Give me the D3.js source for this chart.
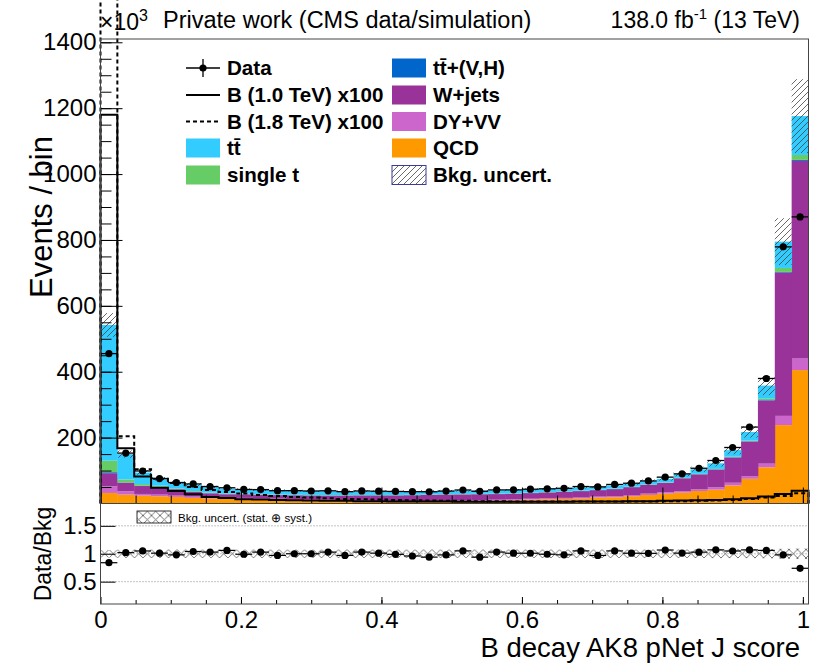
<!DOCTYPE html>
<html><head><meta charset="utf-8">
<script src="https://cdn.jsdelivr.net/npm/d3@7"></script>
<style>
body{margin:0;background:#fff}
svg{display:block;font-family:"Liberation Sans",Arial,Helvetica,sans-serif}
</style>
</head><body>
<svg id="c" width="826" height="665"></svg>
<script>
// ---------------- DATA (events / bin, in units of 10^3) ----------------
const nBins = 42;
const binWidth = 0.024;
const qcd     = [32,27,24,22,20,17,15,14,14,13,12,11,10,9,8,7,6,5,5,5,5,6,8,9,10,12,13,14,15,18,19,22,26,30,33,38,42,55,75,110,238,405];
const dyvv    = [20,10,5,5,4,4,3,3,3,2.5,2.5,2.5,2.5,2.5,2.5,2.5,2.5,2.5,2.5,2.5,2.5,2.5,2.5,2.5,2.5,2.5,3,3,3,3,3,3.5,4,4,4,5,7,8,8,11,28,35];
const wjets   = [40,26,24,23,19,14.2,12.8,10.9,10.6,10.8,10.8,11.4,11.9,12.5,13.5,15,16,17,17.5,18.5,19.5,19,17.5,17,17,17,17.5,18.5,19.5,19.5,21.5,24,26.5,28.5,39.5,45.5,54.2,76.8,105.2,192,435,600];
const ttvh    = [3,1,1,1,1,0.8,0.7,0.6,0.6,0.5,0.5,0.5,0.5,0.5,0.5,0.5,0.5,0.5,0.5,0.5,0.5,0.5,0.5,0.5,0.5,0.5,0.5,0.5,0.5,0.5,0.5,0.5,0.5,0.5,0.5,0.5,0.6,0.7,0.8,1,2,3];
const singlet = [35,9,5,3,2,2,1.5,1.5,1.3,1.2,1.2,1.1,1.1,1,1,1,1,1,1,1,1,1,1,1,1,1,1,1,1,1,1,1,1,1,1,1,1.2,1.5,2,4,12,15];
const ttbar   = [412,77,35,21,19,19,17,15,13.5,13,13,12.5,12,12,11.5,11,11,11,11,10.5,10,10,10,10,10,10,10,10,10,10,10,10,10,11,11,14,17,20,26,40,80,118];
const bkgUnc  = [36,11,7,5.5,4.8,4.2,3.6,3.3,3.1,3,2.9,2.8,2.7,2.7,2.7,2.7,2.7,2.7,2.7,2.8,2.8,2.8,2.9,2.9,3,3.1,3.3,3.4,3.6,3.8,4,4.4,5,5.5,6.5,7.8,9.5,12.5,17,29,71,112];
const dataVal = [455,153,98.7,75.8,63.7,59.3,51.5,47.7,42.6,42.2,38.8,39,38,38.6,35.9,38.1,37.4,36.6,36,35.7,37.7,41,37.1,41.2,41.4,43.4,44.6,46.1,51.5,50.4,57.8,61.6,68.5,80,90,107,130.5,170,232,379.5,779,870];
const sig10   = [1180,168,82,48,38,28,20,17,13,12,11,10,9,8,8,7,7,6,6,6,6,5,5,5,5,5,5,5,6,6,6,7,7,8,9,10,11,13,16,21,29,39];
const sig18   = [1700,204,104,75,62,50,41,35,30,26,23,20,18,16,14,13,12,11,10,9,8,8,7,7,6,6,6,6,6,6,6,6,6,7,7,8,9,11,14,18,23,31];
const yTicks = [200,400,600,800,1000,1200,1400];
const xTicks = [0,0.2,0.4,0.6,0.8,1];
const ratioTicks = [0.5,1,1.5];
const stackKeys   = ["qcd","dyvv","wjets","ttvh","singlet","ttbar"];
const stackLabels = {ttbar:"tt\u0304", singlet:"single t", ttvh:"tt\u0304+(V,H)", wjets:"W+jets", dyvv:"DY+VV", qcd:"QCD"};
const stackColors = {ttbar:"#33ccff", singlet:"#66cc66", ttvh:"#0066cc", wjets:"#993399", dyvv:"#cc66cc", qcd:"#ff9900"};
const series = {qcd, dyvv, wjets, ttvh, singlet, ttbar};

// ---------------- LAYOUT ----------------
const svg = d3.select("#c");
const mainL = 100.5, mainR = 808.5, mainT = 39, mainB = 503.5, ratT = 503.5, ratB = 604;
const FONT = '"Liberation Sans",Arial,Helvetica,sans-serif';

const x  = d3.scaleLinear().domain([0, nBins*binWidth]).range([mainL, mainR]);
const y  = d3.scaleLinear().domain([0, 1410]).range([mainB, mainT]);
const yr = d3.scaleLinear().domain([0.1, 1.9]).range([ratB, ratT]);

const defs = svg.append("defs");
const ph = defs.append("pattern").attr("id","hatch").attr("patternUnits","userSpaceOnUse")
  .attr("width",6).attr("height",6);
ph.append("path").attr("d","M-1,1 l2,-2 M0,6 l6,-6 M5,7 l2,-2")
  .attr("stroke","#444").attr("stroke-width",0.8).attr("fill","none");
const px = defs.append("pattern").attr("id","xhatch").attr("patternUnits","userSpaceOnUse")
  .attr("width",8.5).attr("height",8.5).attr("y", yr(1)-4.25).attr("x", mainL);
px.append("path").attr("d","M0,0 L8.5,8.5 M8.5,0 L0,8.5")
  .attr("stroke","#666").attr("stroke-width",0.9).attr("fill","none");
defs.append("clipPath").attr("id","clipMain").append("rect")
  .attr("x",mainL).attr("y",mainT).attr("width",mainR-mainL).attr("height",mainB-mainT);

const rows = d3.range(nBins).map(i => {
  const r = {i};
  stackKeys.forEach(k => r[k] = series[k][i]);
  return r;
});
const stacked = d3.stack().keys(stackKeys)(rows);
const total = rows.map(r => d3.sum(stackKeys, k => r[k]));
const bw = x(binWidth) - x(0);

// stack
const gStack = svg.append("g").attr("clip-path","url(#clipMain)");
stacked.forEach(s => {
  gStack.selectAll(null).data(s).join("rect")
    .attr("x", d => x(d.data.i*binWidth))
    .attr("width", bw + 0.4)
    .attr("y", d => y(d[1]))
    .attr("height", d => Math.max(0, y(d[0]) - y(d[1])))
    .attr("fill", stackColors[s.key]);
});
// uncertainty hatch
gStack.selectAll(null).data(d3.range(nBins)).join("rect")
  .attr("x", i => x(i*binWidth)).attr("width", bw)
  .attr("y", i => y(total[i] + bkgUnc[i]))
  .attr("height", i => y(total[i] - bkgUnc[i]) - y(total[i] + bkgUnc[i]))
  .attr("fill","url(#hatch)");

// axes main
function styleAxis(g){
  g.select(".domain").remove();
  g.selectAll("line").attr("stroke","#000").attr("stroke-width",1);
  g.selectAll("text").attr("font-family",FONT).attr("font-size",24).attr("fill","#000");
}
svg.append("g").attr("transform",`translate(${mainL},0)`)
  .call(d3.axisLeft(y).tickValues(d3.range(50,1410,50)).tickSize(-11).tickFormat(""))
  .call(styleAxis);
svg.append("g").attr("transform",`translate(${mainL},0)`)
  .call(d3.axisLeft(y).tickValues(yTicks).tickSize(-22).tickPadding(4).tickFormat(d3.format("d")))
  .call(styleAxis);
svg.append("g").attr("transform",`translate(0,${mainB})`)
  .call(d3.axisBottom(x).tickValues(d3.range(0.05,1.0001,0.05)).tickSize(-8).tickFormat(""))
  .call(styleAxis);
svg.append("g").attr("transform",`translate(0,${mainB})`)
  .call(d3.axisBottom(x).tickValues(xTicks).tickSize(-16).tickFormat(""))
  .call(styleAxis);

// signals
const stepLine = d3.line().x(d => x(d[0])).y(d => y(d[1])).curve(d3.curveStepAfter);
function sigPts(arr){
  const p = [[0,0]];
  arr.forEach((v,i) => p.push([i*binWidth, v]));
  p.push([nBins*binWidth, arr[nBins-1]]);
  p.push([nBins*binWidth, 0]);
  return p;
}
svg.append("path").attr("d", stepLine(sigPts(sig10)))
  .attr("fill","none").attr("stroke","#000").attr("stroke-width",2);
svg.append("path").attr("d", stepLine(sigPts(sig18)))
  .attr("fill","none").attr("stroke","#000").attr("stroke-width",2).attr("stroke-dasharray","4,3");

// data main
const gData = svg.append("g");
gData.selectAll(null).data(d3.range(nBins)).join("line")
  .attr("x1", i => x(i*binWidth)).attr("x2", i => x((i+1)*binWidth))
  .attr("y1", i => y(dataVal[i])).attr("y2", i => y(dataVal[i]))
  .attr("stroke","#000").attr("stroke-width",1.3);
gData.selectAll(null).data(d3.range(nBins)).join("circle")
  .attr("cx", i => x((i+0.5)*binWidth)).attr("cy", i => y(dataVal[i]))
  .attr("r",3.6).attr("fill","#000");

// main frame
svg.append("rect").attr("x",mainL).attr("y",mainT).attr("width",mainR-mainL).attr("height",mainB-mainT)
  .attr("fill","none").attr("stroke","#444").attr("stroke-width",1);

// ---------------- RATIO ----------------
const gR = svg.append("g");
ratioTicks.forEach(t => {
  gR.append("line").attr("x1",mainL).attr("x2",mainR).attr("y1",yr(t)).attr("y2",yr(t))
    .attr("stroke","#888").attr("stroke-width",1).attr("stroke-dasharray","1,2");
});
gR.selectAll(null).data(d3.range(nBins)).join("rect")
  .attr("x", i => x(i*binWidth)).attr("width", bw)
  .attr("y", i => yr(1 + bkgUnc[i]/total[i]))
  .attr("height", i => yr(1 - bkgUnc[i]/total[i]) - yr(1 + bkgUnc[i]/total[i]))
  .attr("fill","url(#xhatch)");
const ratio = d3.range(nBins).map(i => dataVal[i]/total[i]);
gR.selectAll(null).data(d3.range(nBins)).join("line")
  .attr("x1", i => x(i*binWidth)).attr("x2", i => x((i+1)*binWidth))
  .attr("y1", i => yr(ratio[i])).attr("y2", i => yr(ratio[i]))
  .attr("stroke","#000").attr("stroke-width",1.2);
gR.selectAll(null).data(d3.range(nBins)).join("circle")
  .attr("cx", i => x((i+0.5)*binWidth)).attr("cy", i => yr(ratio[i]))
  .attr("r",3.6).attr("fill","#000");

svg.append("g").attr("transform",`translate(${mainL},0)`)
  .call(d3.axisLeft(yr).tickValues(ratioTicks).tickSize(-15).tickPadding(4).tickFormat(d => d3.format("")(d)))
  .call(styleAxis);
svg.append("g").attr("transform",`translate(0,${ratB})`)
  .call(d3.axisBottom(x).tickValues(d3.range(0.05,1.0001,0.05)).tickSize(-4).tickFormat(""))
  .call(styleAxis);
svg.append("g").attr("transform",`translate(0,${ratB})`)
  .call(d3.axisBottom(x).tickValues(xTicks).tickSize(-7).tickPadding(7).tickFormat(d => d3.format("")(d)))
  .call(styleAxis);
svg.append("rect").attr("x",mainL).attr("y",ratT).attr("width",mainR-mainL).attr("height",ratB-ratT)
  .attr("fill","none").attr("stroke","#444").attr("stroke-width",1);

// ratio legend
svg.append("rect").attr("x",137).attr("y",511).attr("width",34).attr("height",12)
  .attr("fill","url(#xhatch)").attr("stroke","#000").attr("stroke-width",0.8);
svg.append("text").attr("x",178).attr("y",521.5).attr("font-size",11.5).attr("fill","#000")
  .text("Bkg. uncert. (stat. \u2295 syst.)");

// ---------------- LEGEND ----------------
const leg = svg.append("g").attr("font-weight","bold").attr("font-size",20.6).attr("fill","#000");
const col1X = 186, col2X = 392, boxW = 34, boxH = 19;
const rowY = [68, 95, 121.5, 148, 175];
// Data
leg.append("line").attr("x1",col1X).attr("x2",col1X+boxW).attr("y1",rowY[0]).attr("y2",rowY[0]).attr("stroke","#000").attr("stroke-width",1.3);
leg.append("line").attr("x1",col1X+boxW/2).attr("x2",col1X+boxW/2).attr("y1",rowY[0]-9).attr("y2",rowY[0]+9).attr("stroke","#000").attr("stroke-width",1.3);
leg.append("circle").attr("cx",col1X+boxW/2).attr("cy",rowY[0]).attr("r",3.6).attr("fill","#000");
leg.append("text").attr("x",227).attr("y",rowY[0]+7).text("Data");
leg.append("line").attr("x1",col1X).attr("x2",col1X+boxW).attr("y1",rowY[1]).attr("y2",rowY[1]).attr("stroke","#000").attr("stroke-width",2);
leg.append("text").attr("x",227).attr("y",rowY[1]+7).text("B (1.0 TeV) x100");
leg.append("line").attr("x1",col1X).attr("x2",col1X+boxW).attr("y1",rowY[2]).attr("y2",rowY[2]).attr("stroke","#000").attr("stroke-width",2).attr("stroke-dasharray","4,3");
leg.append("text").attr("x",227).attr("y",rowY[2]+7).text("B (1.8 TeV) x100");
const legStack = [["ttbar",col1X,227,3],["singlet",col1X,227,4],["ttvh",col2X,433,0],["wjets",col2X,433,1],["dyvv",col2X,433,2],["qcd",col2X,433,3]];
legStack.forEach(([k,bx,tx,r]) => {
  leg.append("rect").attr("x",bx).attr("y",rowY[r]-boxH/2).attr("width",boxW).attr("height",boxH).attr("fill",stackColors[k]);
  leg.append("text").attr("x",tx).attr("y",rowY[r]+7).text(stackLabels[k]);
});
leg.append("rect").attr("x",col2X).attr("y",rowY[4]-boxH/2).attr("width",boxW).attr("height",boxH)
  .attr("fill","url(#hatch)").attr("stroke","#3a3a9a").attr("stroke-width",1);
leg.append("text").attr("x",433).attr("y",rowY[4]+7).text("Bkg. uncert.");

// ---------------- TEXTS ----------------
svg.append("text").attr("x",163).attr("y",28).attr("font-size",23.5).text("Private work (CMS data/simulation)");
const lumi = svg.append("text").attr("x",800).attr("y",28).attr("font-size",23).attr("text-anchor","end");
lumi.append("tspan").text("138.0 fb");
lumi.append("tspan").attr("font-size",15).attr("dy",-9).text("-1");
lumi.append("tspan").attr("dy",9).text(" (13 TeV)");
const e3 = svg.append("text").attr("x",100).attr("y",30).attr("font-size",23);
e3.append("tspan").text("\u00d710");
e3.append("tspan").attr("font-size",16).attr("dy",-9).text("3");
svg.append("text").attr("transform","translate(52,217) rotate(-90)").attr("text-anchor","middle")
  .attr("font-size",31).text("Events / bin");
svg.append("text").attr("transform","translate(51,554) rotate(-90)").attr("text-anchor","middle")
  .attr("font-size",23).text("Data/Bkg");
svg.append("text").attr("x",800).attr("y",657).attr("text-anchor","end")
  .attr("font-size",27.5).text("B decay AK8 pNet J score");
</script>
</body></html>
